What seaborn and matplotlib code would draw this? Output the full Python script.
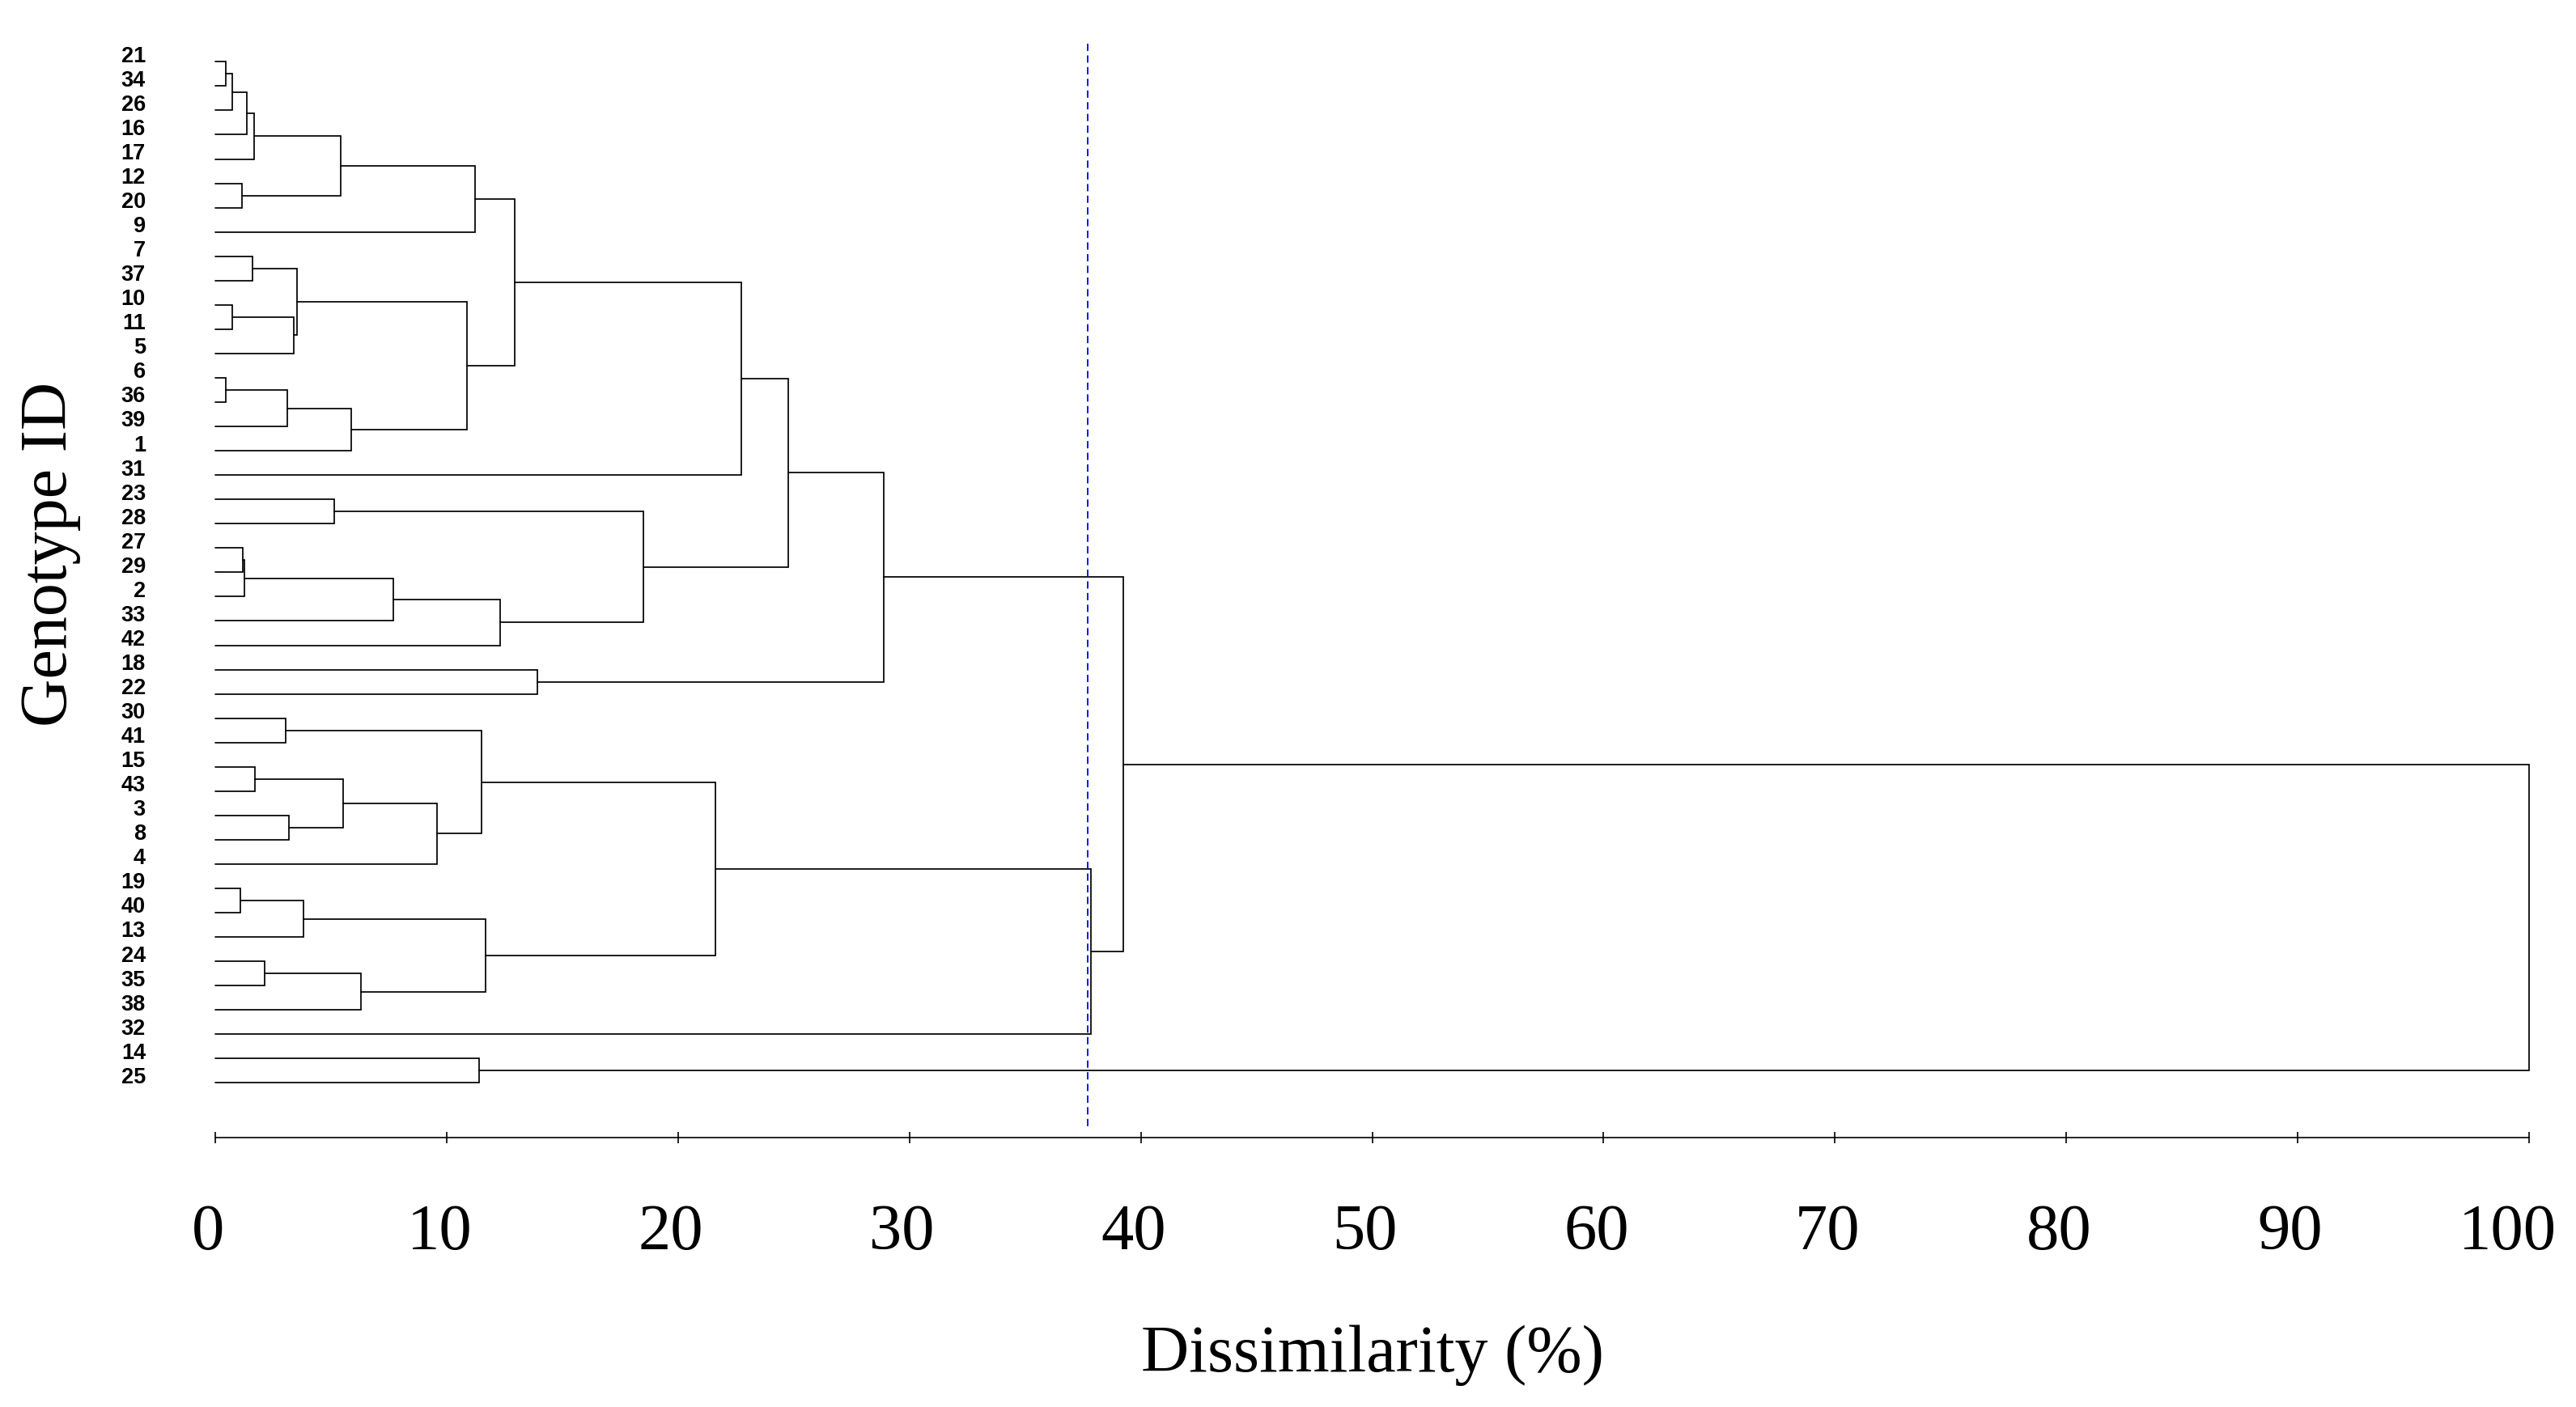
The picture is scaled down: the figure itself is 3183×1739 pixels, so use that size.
import numpy as np
import pandas as pd
import matplotlib
matplotlib.use("Agg")
import matplotlib.pyplot as plt
import matplotlib.transforms as mtransforms
import seaborn as sns

# ---------------- data ----------------
leaf_labels = ["21", "34", "26", "16", "17", "12", "20", "9", "7", "37",
               "10", "11", "5", "6", "36", "39", "1", "31", "23", "28",
               "27", "29", "2", "33", "42", "18", "22", "30", "41", "15",
               "43", "3", "8", "4", "19", "40", "13", "24", "35", "38",
               "32", "14", "25"]

merge_names = ["a", "b", "c", "d", "e", "f", "g", "h", "i", "j", "k", "l", "m",
               "n", "o", "p", "q", "r", "s", "t", "u", "v", "w", "x", "y", "z",
               "A", "B", "C", "D", "E", "F", "G", "H", "I", "J", "K", "L", "M",
               "N", "O", "P"]
merge_left = ["21", "a", "b", "c", "12", "d", "f", "7", "10", "i", "h", "6", "l",
              "m", "k", "g", "p", "23", "27", "s", "t", "u", "r", "q", "18", "x",
              "30", "15", "3", "B", "D", "A", "19", "G", "24", "I", "H", "F", "L",
              "z", "14", "N"]
merge_right = ["34", "26", "16", "17", "20", "e", "9", "37", "11", "5", "j", "36", "39",
               "1", "n", "o", "31", "28", "29", "2", "33", "42", "v", "w", "22", "y",
               "41", "43", "8", "C", "4", "E", "40", "13", "35", "38", "J", "K", "32",
               "M", "25", "O"]
merge_height = [0.46, 0.72, 1.35, 1.68, 1.16, 5.42, 11.24, 1.62, 0.75, 3.39, 3.55, 0.46, 3.12,
                5.86, 10.88, 12.94, 22.75, 5.15, 1.18, 1.26, 7.71, 12.31, 18.5, 24.75, 13.91, 28.9,
                3.04, 1.71, 3.19, 5.51, 9.58, 11.52, 1.08, 3.82, 2.15, 6.31, 11.68, 21.6, 37.85,
                39.25, 11.42, 100.0]

cut_height = 37.7
x_ticks = [0, 10, 20, 30, 40, 50, 60, 70, 80, 90, 100]
x_label = "Dissimilarity (%)"
y_label = "Genotype ID"

# ---------------- build dendrogram links ----------------
pos = {lab: float(i) for i, lab in enumerate(leaf_labels)}
hgt = {lab: 0.0 for lab in leaf_labels}
rows = []
for k, (name, l, r, h) in enumerate(zip(merge_names, merge_left, merge_right, merge_height)):
    yl, yr = pos[l], pos[r]
    rows += [(k, hgt[l], yl), (k, h, yl), (k, h, yr), (k, hgt[r], yr)]
    pos[name] = (yl + yr) / 2.0
    hgt[name] = h
links = pd.DataFrame(rows, columns=["link", "x", "y"])

# ---------------- figure ----------------
sns.set_theme(style="white")
plt.rcParams["font.family"] = ["Liberation Serif", "DejaVu Serif"]

W, H = 3183, 1740
fig = plt.figure(figsize=(W / 100, H / 100), dpi=100)
x0_px, x1_px = 266, 3125
ytop_px, ybot_px = 40, 1407
ax = fig.add_axes([x0_px / W, 1 - ybot_px / H, (x1_px - x0_px) / W, (ybot_px - ytop_px) / H])

sns.lineplot(data=links, x="x", y="y", units="link", estimator=None, sort=False,
             color="black", linewidth=1.25, ax=ax, legend=False)
for ln in ax.lines:
    ln.set_clip_on(False)
    ln.set_solid_joinstyle("miter")

leaf0_px, leaf_step = 77.3, 30.05
ax.set_xlim(0, 100)
ax.set_ylim((ybot_px - leaf0_px) / leaf_step, (ytop_px - leaf0_px) / leaf_step)

# cut line
ax.plot([cut_height, cut_height], [(55 - leaf0_px) / leaf_step, (1393 - leaf0_px) / leaf_step],
        color="#0000FF", linewidth=1.3, linestyle=(0, (5, 3)), clip_on=False)

# spines
for s in ["top", "right", "left"]:
    ax.spines[s].set_visible(False)
ax.spines["bottom"].set_color("black")
ax.spines["bottom"].set_linewidth(1.2)

# x ticks
ax.set_xticks(x_ticks)
ax.set_xticklabels([str(t) for t in x_ticks])
ax.tick_params(axis="x", direction="inout", length=10, width=1.2, color="black",
               labelsize=58, labelcolor="black", pad=53, bottom=True)
for t, lab in zip(x_ticks, ax.get_xticklabels()):
    dx = -27 if t == 100 else -9
    lab.set_transform(lab.get_transform() +
                      mtransforms.ScaledTranslation(dx / 100, 0, fig.dpi_scale_trans))

# y ticks: leaf labels
ax.set_yticks(np.arange(len(leaf_labels)))
ax.set_yticklabels(leaf_labels)
ax.tick_params(axis="y", length=0, pad=62, left=True)
offset = mtransforms.ScaledTranslation(0, 10.6 / 100, fig.dpi_scale_trans)
for lab in ax.get_yticklabels():
    lab.set_fontfamily(["Liberation Sans", "DejaVu Sans"])
    lab.set_fontweight("bold")
    lab.set_fontsize(19.5)
    lab.set_color("black")
    lab.set_transform(lab.get_transform() + offset)

ax.grid(False)

ax.set_xlabel(x_label, fontsize=59, color="black")
ax.xaxis.label.set_va("baseline")
ax.xaxis.set_label_coords(0.5, (ybot_px - 1695) / (ybot_px - ytop_px))

ax.set_ylabel(y_label, fontsize=59, color="black")
ax.yaxis.label.set_va("center")
ax.yaxis.set_label_coords((62 - x0_px) / (x1_px - x0_px), (ybot_px - 685) / (ybot_px - ytop_px))

fig.savefig("out.png", dpi=100, facecolor="white")
